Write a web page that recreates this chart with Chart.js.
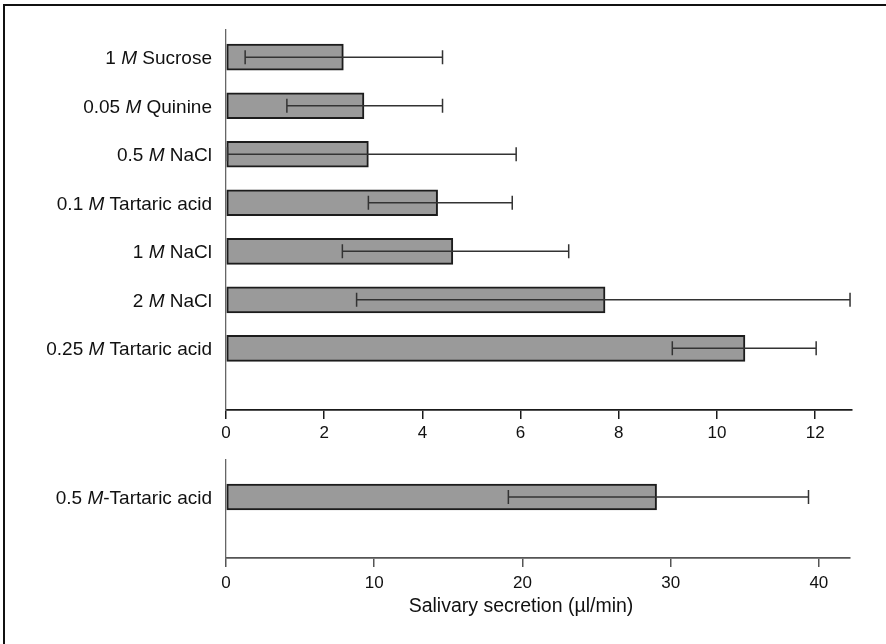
<html>
  <head>
    <script src="https://cdn.jsdelivr.net/npm/chart.js"></script>
    <style>
      body { margin: 0; background: #fff; }
      #frame { position: absolute; left: 3px; top: 4px; width: 900px; height: 700px;
               border-left: 2px solid #111; border-top: 2px solid #111; }
      #top { position: absolute; left: 0; top: 0; }
      #bottom { position: absolute; left: 0; top: 440px; }
    </style>
  </head>
  <body>
    <div id="frame"></div>
    <canvas id="top" width="886" height="450"></canvas>
    <canvas id="bottom" width="886" height="204"></canvas>
    <script>
      // top panel (µl/min)
      const concentrations = ['1', '0.05', '0.5', '0.1', '1', '2', '0.25'];
      const solutes = ['Sucrose', 'Quinine', 'NaCl', 'Tartaric acid', 'NaCl', 'NaCl', 'Tartaric acid'];
      const means = [2.39, 2.81, 2.90, 4.31, 4.62, 7.72, 10.57];
      const errLow = [0.39, 1.24, 0.03, 2.90, 2.37, 2.66, 9.09];
      const errHigh = [4.41, 4.41, 5.91, 5.83, 6.98, 12.71, 12.02];
      const topTicks = [0, 2, 4, 6, 8, 10, 12];

      // bottom panel
      const concentrations2 = ['0.5'];
      const solutes2 = ['Tartaric acid'];
      const means2 = [29.05];
      const errLow2 = [19.05];
      const errHigh2 = [39.3];
      const bottomTicks = [0, 10, 20, 30, 40];

      const FONT = '"Liberation Sans", Arial, sans-serif';

      // row labels with italic M, drawn right-aligned next to the y axis
      const rowLabels = {
        id: 'rowLabels',
        afterDraw(chart, args, opts) {
          const ctx = chart.ctx;
          const y = chart.scales.y;
          const right = chart.chartArea.left - 14;
          ctx.save();
          ctx.fillStyle = '#111';
          ctx.textBaseline = 'alphabetic';
          ctx.textAlign = 'left';
          opts.conc.forEach((c, i) => {
            const parts = [
              { t: c + ' ', f: '19px ' + FONT },
              { t: 'M', f: 'italic 19px ' + FONT },
              { t: opts.sep + opts.sol[i], f: '19px ' + FONT }
            ];
            let w = 0;
            parts.forEach(p => { ctx.font = p.f; w += ctx.measureText(p.t).width; });
            let x = right - w;
            const py = y.getPixelForValue(i) + 7;
            parts.forEach(p => { ctx.font = p.f; ctx.fillText(p.t, x, py); x += ctx.measureText(p.t).width; });
          });
          ctx.restore();
        }
      };

      const errorBars = {
        id: 'errorBars',
        afterDatasetsDraw(chart, args, opts) {
          const ctx = chart.ctx;
          const xs = chart.scales.x, ys = chart.scales.y;
          ctx.save();
          ctx.strokeStyle = '#333';
          ctx.lineWidth = 1.5;
          opts.low.forEach((lo, i) => {
            const y = ys.getPixelForValue(i);
            const x1 = xs.getPixelForValue(lo), x2 = xs.getPixelForValue(opts.high[i]);
            ctx.beginPath();
            ctx.moveTo(x1, y); ctx.lineTo(x2, y);
            ctx.moveTo(x1, y - 7); ctx.lineTo(x1, y + 7);
            ctx.moveTo(x2, y - 7); ctx.lineTo(x2, y + 7);
            ctx.stroke();
          });
          ctx.restore();
        }
      };

      const axisTitle = {
        id: 'axisTitle',
        afterDraw(chart, args, opts) {
          if (!opts.text) return;
          const ctx = chart.ctx;
          ctx.save();
          ctx.font = '19.5px ' + FONT;
          ctx.fillStyle = '#111';
          ctx.textAlign = 'center';
          ctx.textBaseline = 'alphabetic';
          ctx.fillText(opts.text, opts.x, opts.y);
          ctx.restore();
        }
      };

      function makeChart(id, vals, lo, hi, conc, sol, sep, xmax, ticks, ymin, ymax, pad, xh, tickPad, axisCol, title) {
        return new Chart(document.getElementById(id), {
          type: 'bar',
          data: {
            datasets: [{
              data: vals.map((v, i) => ({ x: v, y: i })),
              backgroundColor: '#9a9a9a',
              borderColor: '#1c1c1c',
              borderWidth: 2,
              borderSkipped: false,
              barThickness: 26
            }]
          },
          options: {
            indexAxis: 'y',
            responsive: false,
            animation: false,
            layout: { padding: pad },
            plugins: {
              legend: { display: false },
              tooltip: { enabled: false },
              rowLabels: { conc: conc, sol: sol, sep: sep },
              errorBars: { low: lo, high: hi },
              axisTitle: title
            },
            scales: {
              x: {
                type: 'linear',
                min: 0,
                max: xmax,
                afterFit: s => { s.height = xh; },
                afterBuildTicks: s => { s.ticks = ticks.map(v => ({ value: v })); },
                grid: { drawOnChartArea: false, drawTicks: true, tickLength: 9, color: axisCol, lineWidth: 1.5 },
                border: { display: true, color: axisCol, width: 1.8 },
                ticks: { color: '#111', padding: tickPad, font: { family: FONT, size: 17 }, maxRotation: 0 }
              },
              y: {
                type: 'linear',
                reverse: true,
                offset: false,
                min: ymin,
                max: ymax,
                afterFit: s => { s.width = 226; },
                grid: { display: false, offset: false },
                border: { display: true, color: '#666', width: 1.3 },
                ticks: { display: false }
              }
            }
          },
          plugins: [rowLabels, errorBars, axisTitle]
        });
      }

      makeChart('top', means, errLow, errHigh, concentrations, solutes, ' ',
        12.75, topTicks, -0.56, 7.27, { top: 30, right: 34, left: 0, bottom: 0 }, 40, 4, '#1a1a1a', {});

      makeChart('bottom', means2, errLow2, errHigh2, concentrations2, solutes2, '-',
        42.1, bottomTicks, -0.762, 1.256, { top: 20, right: 36, left: 0, bottom: 0 }, 86, 6, '#555',
        { text: 'Salivary secretion (\u00b5l/min)', x: 521, y: 172 });
    </script>
  </body>
</html>
